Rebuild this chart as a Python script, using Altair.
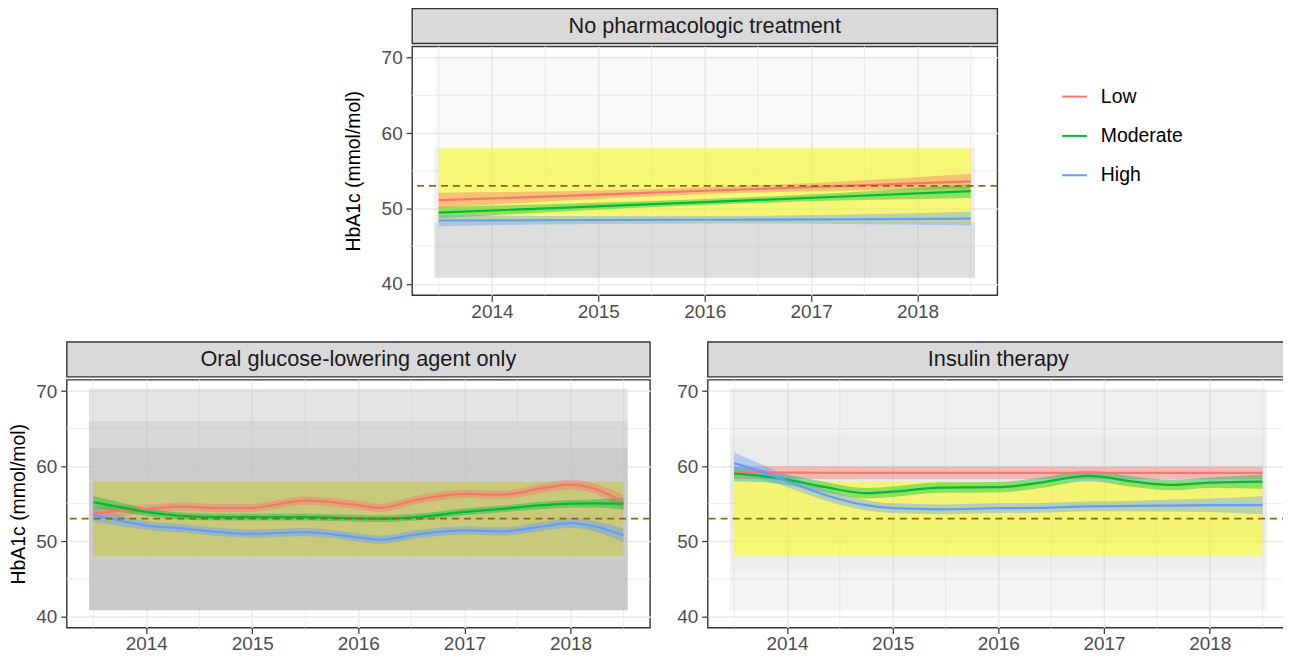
import altair as alt
import pandas as pd

GROUPS = ["Low", "Moderate", "High"]
COLORS = ["#F8766D", "#00BA38", "#619CFF"]

X_TICKS = [2014, 2015, 2016, 2017, 2018]
Y_TICKS = [40, 50, 60, 70]
X_MINOR = [2013.5, 2014.5, 2015.5, 2016.5, 2017.5, 2018.5]
Y_MINOR = [45, 55, 65]
X_DOMAIN = [2013.25, 2018.75]
Y_DOMAIN = [38.5, 71.5]

TARGET_LINE = [53]
TARGET_BAND_Y = [48, 58]
DATA_SPAN = [2013.5, 2018.5]
CLOUD_SPAN = [2013.46, 2018.54]

# ---- No pharmacologic treatment ----
np_x = [2013.5, 2014.75, 2016.0, 2017.25, 2018.5]
np_low = [51.1, 51.7, 52.35, 52.95, 53.6]
np_low_hw = [1.0, 0.6, 0.45, 0.6, 1.0]
np_mod = [49.45, 50.15, 50.85, 51.55, 52.3]
np_mod_hw = [0.75, 0.5, 0.4, 0.5, 0.9]
np_high = [48.4, 48.45, 48.5, 48.55, 48.65]
np_high_hw = [0.75, 0.55, 0.5, 0.6, 0.9]
np_cloud_lo = [40.8, 48.2, 58.0]
np_cloud_hi = [48.2, 58.0, 70.3]
np_cloud_op = [0.5, 0.25, 0.09]
np_over_op = [0.0]

# ---- Oral glucose-lowering agent only ----
or_x = [2013.5, 2013.8, 2014.0, 2014.35, 2014.7, 2015.0, 2015.5, 2016.0,
        2016.2, 2016.55, 2017.0, 2017.35, 2017.75, 2018.0, 2018.25, 2018.5]
or_low = [53.7, 54.1, 54.3, 54.6, 54.4, 54.45, 55.4, 54.8,
          54.45, 55.5, 56.3, 56.2, 57.1, 57.55, 56.9, 55.2]
or_low_hw = [0.9, 0.7, 0.6, 0.55, 0.55, 0.55, 0.55, 0.55,
             0.55, 0.55, 0.55, 0.55, 0.6, 0.65, 0.7, 0.95]
or_mod = [55.2, 54.4, 53.9, 53.35, 53.2, 53.2, 53.2, 53.05,
          53.0, 53.2, 53.9, 54.3, 54.8, 55.0, 55.05, 55.0]
or_mod_hw = [0.85, 0.6, 0.5, 0.45, 0.45, 0.45, 0.45, 0.45,
             0.45, 0.45, 0.45, 0.45, 0.5, 0.5, 0.55, 0.8]
or_high = [53.5, 52.6, 52.1, 51.7, 51.2, 51.0, 51.2, 50.5,
           50.2, 50.9, 51.45, 51.3, 52.0, 52.4, 51.9, 50.8]
or_high_hw = [0.9, 0.7, 0.6, 0.55, 0.55, 0.55, 0.55, 0.55,
              0.55, 0.55, 0.55, 0.55, 0.6, 0.65, 0.7, 0.95]
or_cloud_lo = [40.8, 48.0, 58.0, 62.5, 66.0]
or_cloud_hi = [48.0, 58.0, 62.5, 66.0, 70.3]
or_cloud_op = [0.82, 0.82, 0.78, 0.6, 0.4]
or_over_op = [0.4]

# ---- Insulin therapy ----
in_x = [2013.5, 2013.75, 2014.0, 2014.4, 2014.75, 2015.0, 2015.45,
        2016.0, 2016.4, 2016.85, 2017.3, 2017.65, 2018.0, 2018.5]
in_low = [59.15, 59.14, 59.13, 59.12, 59.11, 59.1, 59.1,
          59.1, 59.1, 59.1, 59.1, 59.1, 59.1, 59.1]
in_low_hw = [0.85, 0.85, 0.85, 0.85, 0.85, 0.85, 0.85,
             0.85, 0.85, 0.85, 0.85, 0.85, 0.85, 0.85]
in_mod = [59.0, 58.7, 58.2, 57.1, 56.4, 56.6, 57.15,
          57.2, 57.8, 58.7, 57.9, 57.5, 57.8, 57.95]
in_mod_hw = [1.0, 0.8, 0.7, 0.7, 0.7, 0.7, 0.7,
             0.7, 0.7, 0.7, 0.7, 0.7, 0.7, 0.95]
in_high = [60.4, 59.3, 58.0, 56.0, 54.8, 54.4, 54.25,
           54.4, 54.45, 54.65, 54.7, 54.75, 54.8, 54.8]
in_high_hw = [1.4, 1.0, 0.8, 0.75, 0.7, 0.65, 0.65,
              0.65, 0.65, 0.65, 0.7, 0.8, 0.9, 1.2]
in_cloud_lo = [40.8, 46.0, 50.0, 64.0]
in_cloud_hi = [46.0, 50.0, 64.0, 70.3]
in_cloud_op = [0.18, 0.26, 0.33, 0.24]
in_over_op = [0.0]

FONT = "Liberation Sans"
BORDER = "#333333"
GRID = "#EBEBEB"

color_scale = alt.Scale(domain=GROUPS, range=COLORS)
xs = alt.Scale(domain=X_DOMAIN, nice=False, zero=False)
ys = alt.Scale(domain=Y_DOMAIN, nice=False, zero=False)


def smooth_frame(x, series, widths):
    rows = []
    for g, ys_, ws in zip(GROUPS, series, widths):
        for xv, yv, wv in zip(x, ys_, ws):
            rows.append({"yr": xv, "fit": yv, "lo": yv - wv, "hi": yv + wv, "grp": g})
    return pd.DataFrame(rows)


def make_panel(title, sdf, clo, chi, cop, over, width, height, ytitle, title_pad, legend):
    xax = alt.Axis(values=X_TICKS, format="d", grid=True, gridColor=GRID, gridWidth=1.6,
                   domain=False, ticks=True, tickColor=BORDER, tickSize=6, tickWidth=1.2,
                   labelFontSize=19, labelColor="#4D4D4D", labelPadding=1, title=None,
                   labelFlush=False)
    yax = alt.Axis(values=Y_TICKS, grid=True, gridColor=GRID, gridWidth=1.6,
                   domain=False, ticks=True, tickColor=BORDER, tickSize=6, tickWidth=1.2,
                   labelFontSize=19, labelColor="#4D4D4D", labelPadding=4,
                   title=ytitle, titleFontSize=19.5, titleFontWeight="normal",
                   titleColor="black", titlePadding=title_pad)

    def X(f):
        return alt.X(f, scale=xs, axis=xax)

    def Y(f):
        return alt.Y(f, scale=ys, axis=yax)

    minor_v = alt.Chart(pd.DataFrame({"v": X_MINOR})).mark_rule(
        color=GRID, strokeWidth=0.9).encode(x=X("v:Q"))
    minor_h = alt.Chart(pd.DataFrame({"h": Y_MINOR})).mark_rule(
        color=GRID, strokeWidth=0.9).encode(y=Y("h:Q"))

    cloud = alt.Chart(pd.DataFrame({
        "x0": [CLOUD_SPAN[0]] * len(clo), "x1": [CLOUD_SPAN[1]] * len(clo),
        "y0": clo, "y1": chi, "op": cop})).mark_rect(color="#BEBEBE").encode(
        x=X("x0:Q"), x2="x1:Q", y=Y("y0:Q"), y2="y1:Q",
        opacity=alt.Opacity("op:Q", scale=None))

    band = alt.Chart(pd.DataFrame({
        "x0": [DATA_SPAN[0]], "x1": [DATA_SPAN[1]],
        "y0": [TARGET_BAND_Y[0]], "y1": [TARGET_BAND_Y[1]]})).mark_rect(
        color="#FFFF00", opacity=0.5).encode(
        x=X("x0:Q"), x2="x1:Q", y=Y("y0:Q"), y2="y1:Q")

    cloud_over = alt.Chart(pd.DataFrame({
        "x0": [DATA_SPAN[0]], "x1": [DATA_SPAN[1]],
        "y0": [TARGET_BAND_Y[0]], "y1": [TARGET_BAND_Y[1]], "op": over})).mark_rect(
        color="#A0A0A0").encode(
        x=X("x0:Q"), x2="x1:Q", y=Y("y0:Q"), y2="y1:Q",
        opacity=alt.Opacity("op:Q", scale=None))

    base = alt.Chart(sdf)
    ribbon = base.mark_area(opacity=0.4, interpolate="monotone").encode(
        x=X("yr:Q"), y=Y("lo:Q"), y2="hi:Q",
        fill=alt.Fill("grp:N", scale=color_scale, legend=None),
        detail="grp:N")
    if legend:
        leg = alt.Legend(title=None, orient="none", legendX=652, legendY=37,
                         symbolType="stroke", symbolStrokeWidth=2, symbolSize=620,
                         labelFontSize=19.5, labelColor="black", labelFont=FONT,
                         rowPadding=16.5, labelOffset=13)
        col = alt.Color("grp:N", scale=color_scale, legend=leg, sort=GROUPS)
    else:
        col = alt.Color("grp:N", scale=color_scale, legend=None, sort=GROUPS)
    line = base.mark_line(strokeWidth=2.2, interpolate="monotone").encode(
        x=X("yr:Q"), y=Y("fit:Q"), color=col)

    target = alt.Chart(pd.DataFrame({"t": TARGET_LINE})).mark_rule(
        color="#8B6914", strokeWidth=1.8, strokeDash=[7, 5]).encode(y=Y("t:Q"))

    plot = alt.layer(minor_v, minor_h, cloud, band, cloud_over, ribbon, line, target).properties(
        width=width, height=height,
        view=alt.ViewBackground(fill="white", stroke=BORDER, strokeWidth=1.4))

    strip = alt.Chart(pd.DataFrame({"t": [title]})).mark_text(
        fontSize=21.8, color="#1A1A1A", font=FONT).encode(
        text="t:N", x=alt.value(width / 2), y=alt.value(17.5)).properties(
        width=width, height=35,
        view=alt.ViewBackground(fill="#D9D9D9", stroke=BORDER, strokeWidth=1.4))

    return alt.vconcat(strip, plot, spacing=0).resolve_scale(color="independent")


np_df = smooth_frame(np_x, [np_low, np_mod, np_high], [np_low_hw, np_mod_hw, np_high_hw])
or_df = smooth_frame(or_x, [or_low, or_mod, or_high], [or_low_hw, or_mod_hw, or_high_hw])
in_df = smooth_frame(in_x, [in_low, in_mod, in_high], [in_low_hw, in_mod_hw, in_high_hw])

top_panel = make_panel("No pharmacologic treatment", np_df, np_cloud_lo, np_cloud_hi,
                       np_cloud_op, np_over_op, 588, 250, "HbA1c (mmol/mol)", 18, True)
left_panel = make_panel("Oral glucose-lowering agent only", or_df, or_cloud_lo, or_cloud_hi,
                        or_cloud_op, or_over_op, 586, 249, "HbA1c (mmol/mol)", 7, False)
right_panel = make_panel("Insulin therapy", in_df, in_cloud_lo, in_cloud_hi,
                         in_cloud_op, in_over_op, 584, 249, None, 7, False)

spacer = alt.Chart(pd.DataFrame({"s": [" "]})).mark_text(fontSize=8).encode(
    text="s:N", x=alt.value(0), y=alt.value(6)).properties(
    width=276, height=12, view=alt.ViewBackground(stroke="transparent"))

top_row = alt.hconcat(spacer, top_panel, spacing=0).resolve_scale(color="independent")
bottom_row = alt.hconcat(left_panel, right_panel, spacing=24).resolve_scale(color="independent")

chart = alt.vconcat(top_row, bottom_row, spacing=19).resolve_scale(
    color="independent").properties(
    padding={"left": 0, "top": -2, "right": -8, "bottom": 0}).configure(
    font=FONT, background="white")

chart.save("out.html", embed_options={"renderer": "svg", "actions": False})
